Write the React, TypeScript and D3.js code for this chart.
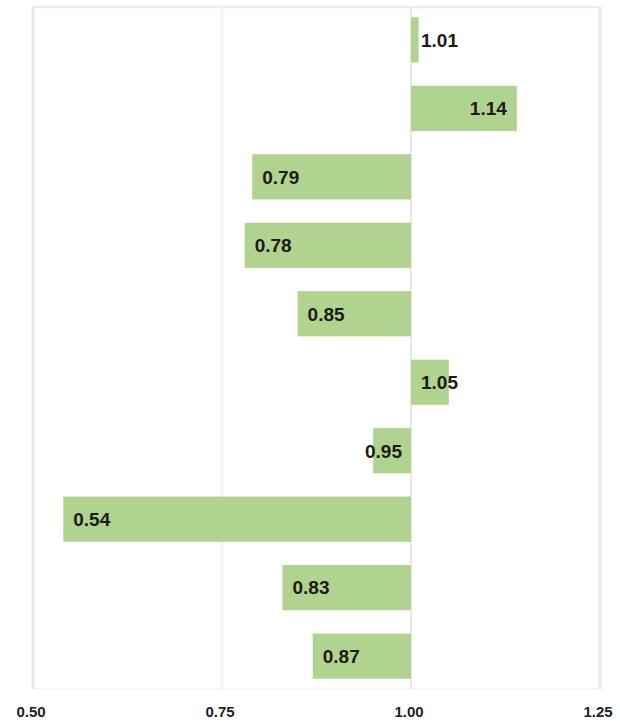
import React from "react";
import * as d3 from "d3";

const categories = ["c1", "c2", "c3", "c4", "c5", "c6", "c7", "c8", "c9", "c10"];
const values = [1.01, 1.14, 0.79, 0.78, 0.85, 1.05, 0.95, 0.54, 0.83, 0.87];
const tickValues = [0.5, 0.75, 1.0, 1.25];
const tickLabels = ["0.50", "0.75", "1.00", "1.25"];

const W = 620;
const H = 721;
const left = 33;
const right = 600;
const top = 7;
const bottom = 689;
const LABEL_FS = 19;

export default function App() {
  const x = d3.scaleLinear().domain([0.5, 1.25]).range([left, right]);
  const y = d3
    .scaleBand<string>()
    .domain(categories)
    .range([top, bottom])
    .paddingInner(0.34)
    .paddingOuter(0.15);
  const base = x(1);
  const estW = (s: string) => s.length * LABEL_FS * 0.58;

  return (
    <svg
      width={W}
      height={H}
      style={{ position: "absolute", left: 0, top: 0 }}
      fontFamily="Liberation Sans, Arial, sans-serif"
    >
      <rect x={0} y={0} width={W} height={H} fill="#ffffff" />
      {/* frame */}
      <line x1={left} x2={right} y1={top} y2={top} stroke="#ececec" strokeWidth={2.5} />
      <line x1={left} x2={right} y1={bottom} y2={bottom} stroke="#f5f5f5" strokeWidth={2} />
      {tickValues.map((t, i) => (
        <line
          key={"g" + i}
          x1={x(t)}
          x2={x(t)}
          y1={top}
          y2={bottom}
          stroke={t === 0.75 ? "#f4f4f4" : "#e8e8e8"}
          strokeWidth={t === 1.0 ? 2 : 3}
        />
      ))}
      {categories.map((c, i) => {
        const v = values[i];
        const x0 = Math.min(x(v), base);
        const w = Math.abs(x(v) - base);
        return (
          <rect key={c} x={x0} y={y(c)!} width={w} height={y.bandwidth()} fill="#b0d48f" />
        );
      })}
      {categories.map((c, i) => {
        const v = values[i];
        const label = v.toFixed(2);
        const tw = estW(label);
        const w = Math.abs(x(v) - base);
        const fits = w >= tw + 20;
        let lx: number;
        let anchor: "start" | "end";
        if (v < 1) {
          if (fits) {
            lx = x(v) + 10;
            anchor = "start";
          } else {
            lx = base - 9;
            anchor = "end";
          }
        } else {
          if (fits) {
            lx = x(v) - 10;
            anchor = "end";
          } else {
            lx = base + 10;
            anchor = "start";
          }
        }
        return (
          <text
            key={"l" + c}
            x={lx}
            y={y(c)! + y.bandwidth() / 2}
            dy="0.36em"
            textAnchor={anchor}
            fontSize={LABEL_FS}
            fontWeight="bold"
            fill="#1e1a14"
          >
            {label}
          </text>
        );
      })}
      {tickValues.map((t, i) => (
        <text
          key={"t" + i}
          x={x(t) - 2}
          y={712}
          dy="0.36em"
          textAnchor="middle"
          fontSize={15}
          fontWeight="bold"
          fill="#222"
        >
          {tickLabels[i]}
        </text>
      ))}
    </svg>
  );
}
